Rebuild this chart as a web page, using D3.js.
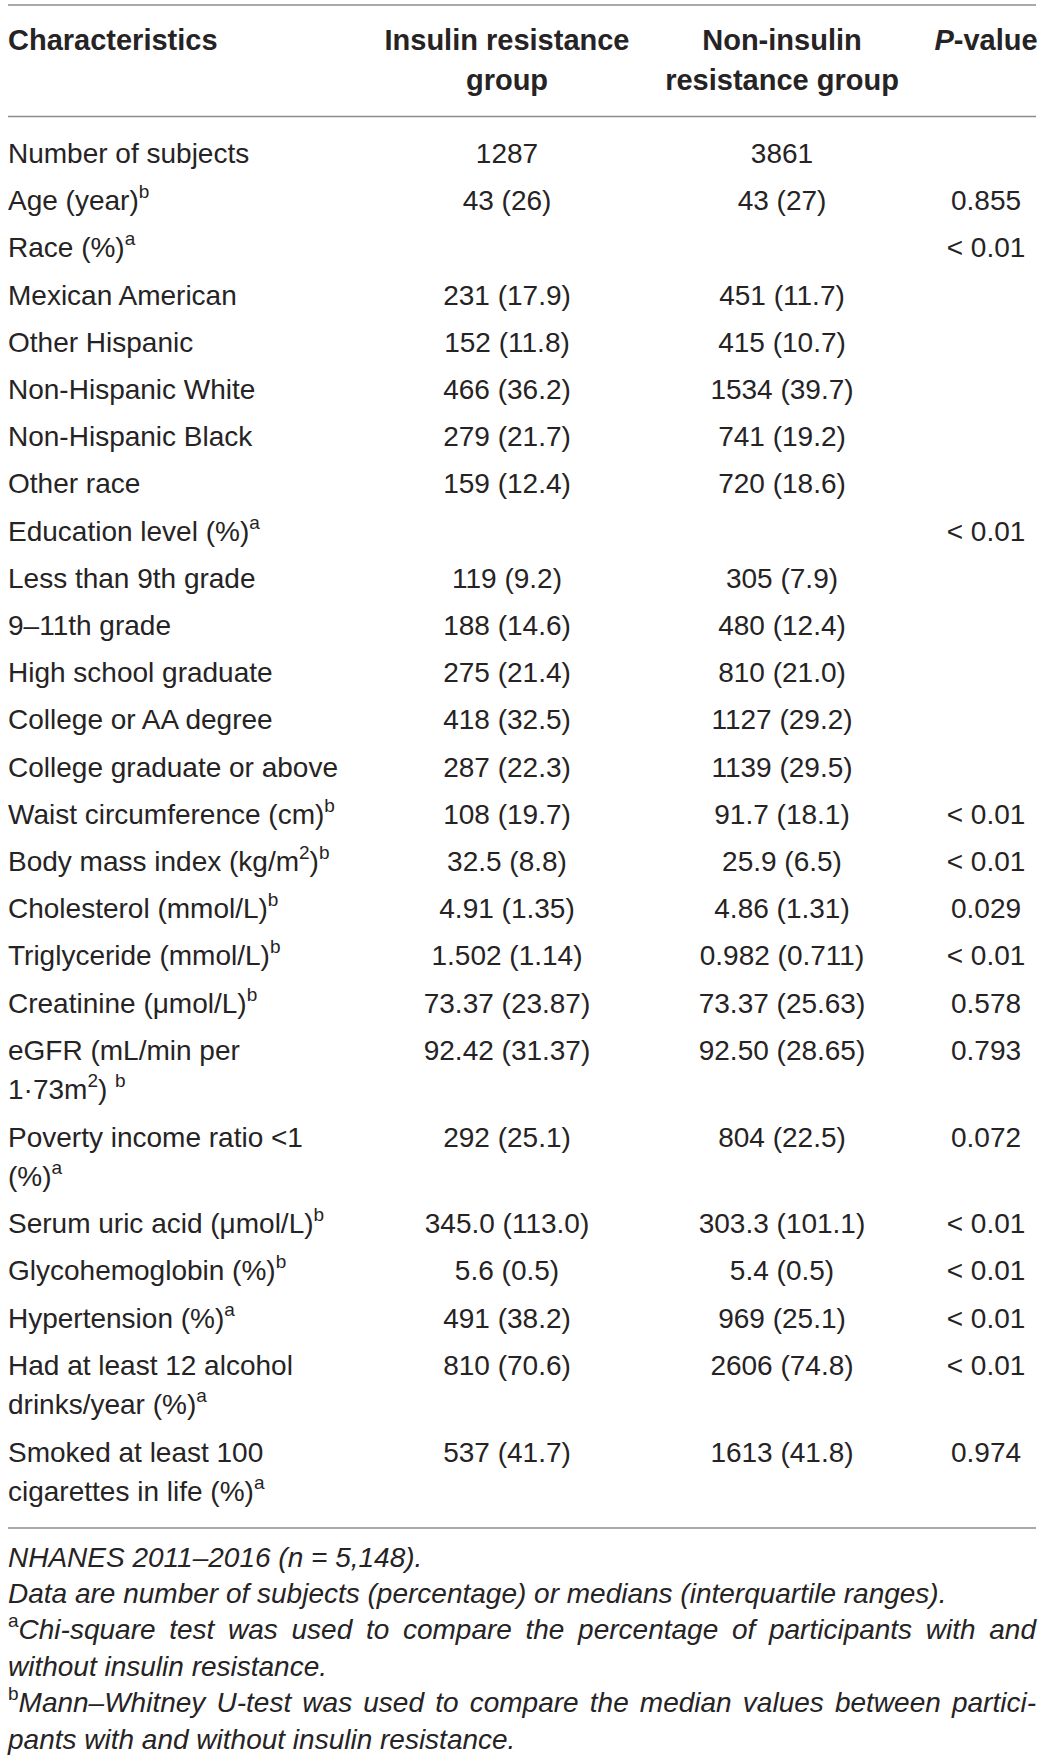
<!DOCTYPE html>
<meta charset="utf-8">
<style>
body {
  margin: 0;
  background: #fff;
}
svg text {
  font-family: "Liberation Sans", Arial, Helvetica, sans-serif;
  fill: #262324;
}
.rule {
  stroke: #8c8c8c;
  stroke-width: 1.5;
}
</style>
<body>
<script src="https://cdn.jsdelivr.net/npm/d3@7"></script>
<script>

// ---- table content ----
var headers = [
  ["Characteristics"],
  ["Insulin resistance", "group"],
  ["Non-insulin", "resistance group"],
  ["^P-value"]
];

// "^x" marks a superscript letter; multi-line labels are split in arrays
var characteristics = [
  ["Number of subjects"],
  ["Age (year)^b"],
  ["Race (%)^a"],
  ["Mexican American"],
  ["Other Hispanic"],
  ["Non-Hispanic White"],
  ["Non-Hispanic Black"],
  ["Other race"],
  ["Education level (%)^a"],
  ["Less than 9th grade"],
  ["9–11th grade"],
  ["High school graduate"],
  ["College or AA degree"],
  ["College graduate or above"],
  ["Waist circumference (cm)^b"],
  ["Body mass index (kg/m^2)^b"],
  ["Cholesterol (mmol/L)^b"],
  ["Triglyceride (mmol/L)^b"],
  ["Creatinine (μmol/L)^b"],
  ["eGFR (mL/min per", "1·73m^2) ^b"],
  ["Poverty income ratio  <1", "(%)^a"],
  ["Serum uric acid (μmol/L)^b"],
  ["Glycohemoglobin (%)^b"],
  ["Hypertension (%)^a"],
  ["Had at least 12 alcohol", "drinks/year (%)^a"],
  ["Smoked at least 100", "cigarettes in life (%)^a"]
];

var insulinResistance = [
  "1287", "43 (26)", "",
  "231 (17.9)", "152 (11.8)", "466 (36.2)", "279 (21.7)", "159 (12.4)",
  "",
  "119 (9.2)", "188 (14.6)", "275 (21.4)", "418 (32.5)", "287 (22.3)",
  "108 (19.7)", "32.5 (8.8)", "4.91 (1.35)", "1.502 (1.14)", "73.37 (23.87)",
  "92.42 (31.37)", "292 (25.1)", "345.0 (113.0)", "5.6 (0.5)", "491 (38.2)",
  "810 (70.6)", "537 (41.7)"
];

var nonInsulinResistance = [
  "3861", "43 (27)", "",
  "451 (11.7)", "415 (10.7)", "1534 (39.7)", "741 (19.2)", "720 (18.6)",
  "",
  "305 (7.9)", "480 (12.4)", "810 (21.0)", "1127 (29.2)", "1139 (29.5)",
  "91.7 (18.1)", "25.9 (6.5)", "4.86 (1.31)", "0.982 (0.711)", "73.37 (25.63)",
  "92.50 (28.65)", "804 (22.5)", "303.3 (101.1)", "5.4 (0.5)", "969 (25.1)",
  "2606 (74.8)", "1613 (41.8)"
];

var pValues = [
  "", "0.855", "< 0.01",
  "", "", "", "", "",
  "< 0.01",
  "", "", "", "", "",
  "< 0.01", "< 0.01", "0.029", "< 0.01", "0.578",
  "0.793", "0.072", "< 0.01", "< 0.01", "< 0.01",
  "< 0.01", "0.974"
];

var footnotes = [
  {text: "NHANES 2011–2016 (", italicN: true},
  {text: "Data are number of subjects (percentage) or medians (interquartile ranges)."},
  {sup: "a", text: "Chi-square test was used to compare the percentage of participants with and", justify: true},
  {text: "without insulin resistance."},
  {sup: "b", text: "Mann–Whitney U-test was used to compare the median values between partici-", justify: true},
  {text: "pants with and without insulin resistance."}
];

// ---- layout ----
var width = 1042,
    height = 1763,
    left = 8,
    right = 1036,
    fontSize = 28,
    supSize = 19,
    supShift = 12,
    rowPitch = 47.2,
    wrapPitch = 39.5;

var colX = d3.scaleOrdinal()
  .domain(["label", "ir", "nonir", "p"])
  .range([left, 507, 782, 986]);

var svg = d3.select("body").append("svg")
    .attr("width", width)
    .attr("height", height);

// write a string with "^x" superscripts into a text element
function richText(sel, str) {
  var parts = str.split(/\^(.)/);
  var shift = 0;
  parts.forEach(function(p, i) {
    if (p === "") return;
    var isSup = i % 2 === 1;
    var t = sel.append("tspan").text(p);
    if (isSup) {
      t.attr("dy", -supShift - shift).style("font-size", supSize + "px");
      shift = -supShift;
    } else if (shift !== 0) {
      t.attr("dy", -shift);
      shift = 0;
    }
  });
}

var headerBottom = 116.5,
    tableTop = 5;

// header
var headerKeys = ["label", "ir", "nonir", "p"];
headers.forEach(function(lines, i) {
  lines.forEach(function(line, k) {
    var t = svg.append("text")
      .attr("x", colX(headerKeys[i]))
      .attr("y", 50 + k * 40)
      .attr("text-anchor", i === 0 ? "start" : "middle")
      .style("font-size", "29px")
      .style("font-weight", "bold");
    if (line.indexOf("^P") === 0) {
      t.append("tspan").style("font-style", "italic").text("P");
      t.append("tspan").text(line.slice(2));
    } else {
      t.text(line);
    }
  });
});

// body rows
var y = 163;
var rowY = characteristics.map(function(lines) {
  var current = y;
  y += rowPitch + wrapPitch * (lines.length - 1);
  return current;
});
var tableBottom = rowY[rowY.length - 1] + wrapPitch + 27;

characteristics.forEach(function(lines, i) {
  lines.forEach(function(line, k) {
    var t = svg.append("text")
      .attr("x", colX("label"))
      .attr("y", rowY[i] + k * wrapPitch)
      .style("font-size", fontSize + "px");
    richText(t, line);
  });
});

[["ir", insulinResistance], ["nonir", nonInsulinResistance], ["p", pValues]].forEach(function(col) {
  svg.append("g").selectAll("text")
    .data(col[1])
    .enter().append("text")
      .attr("x", colX(col[0]))
      .attr("y", function(d, i) { return rowY[i]; })
      .attr("text-anchor", "middle")
      .style("font-size", fontSize + "px")
      .text(function(d) { return d; });
});

svg.selectAll("line.rule")
  .data([tableTop, headerBottom, tableBottom])
  .enter().append("line")
    .attr("class", "rule")
    .attr("x1", left)
    .attr("x2", right)
    .attr("y1", function(d) { return d; })
    .attr("y2", function(d) { return d; });

// footnotes
var footY = tableBottom + 38.5,
    footPitch = 36.4;

footnotes.forEach(function(f, i) {
  var t = svg.append("text")
    .attr("x", left)
    .attr("y", footY + i * footPitch)
    .style("font-size", fontSize + "px");
  if (f.sup) {
    t.append("tspan")
      .attr("dy", -supShift)
      .style("font-size", supSize + "px")
      .text(f.sup);
  }
  var main = t.append("tspan")
    .attr("dy", f.sup ? supShift : null)
    .style("font-style", "italic")
    .text(f.text);
  if (f.italicN) {
    t.append("tspan").style("font-style", "italic").text("n");
    t.append("tspan").style("font-style", "italic").text(" = 5,148).");
  }
  if (f.justify) {
    var natural = t.node().getComputedTextLength();
    var spaces = f.text.split(" ").length - 1;
    var extra = (right - left - natural) / spaces;
    main.style("word-spacing", extra + "px");
  }
});

</script>
